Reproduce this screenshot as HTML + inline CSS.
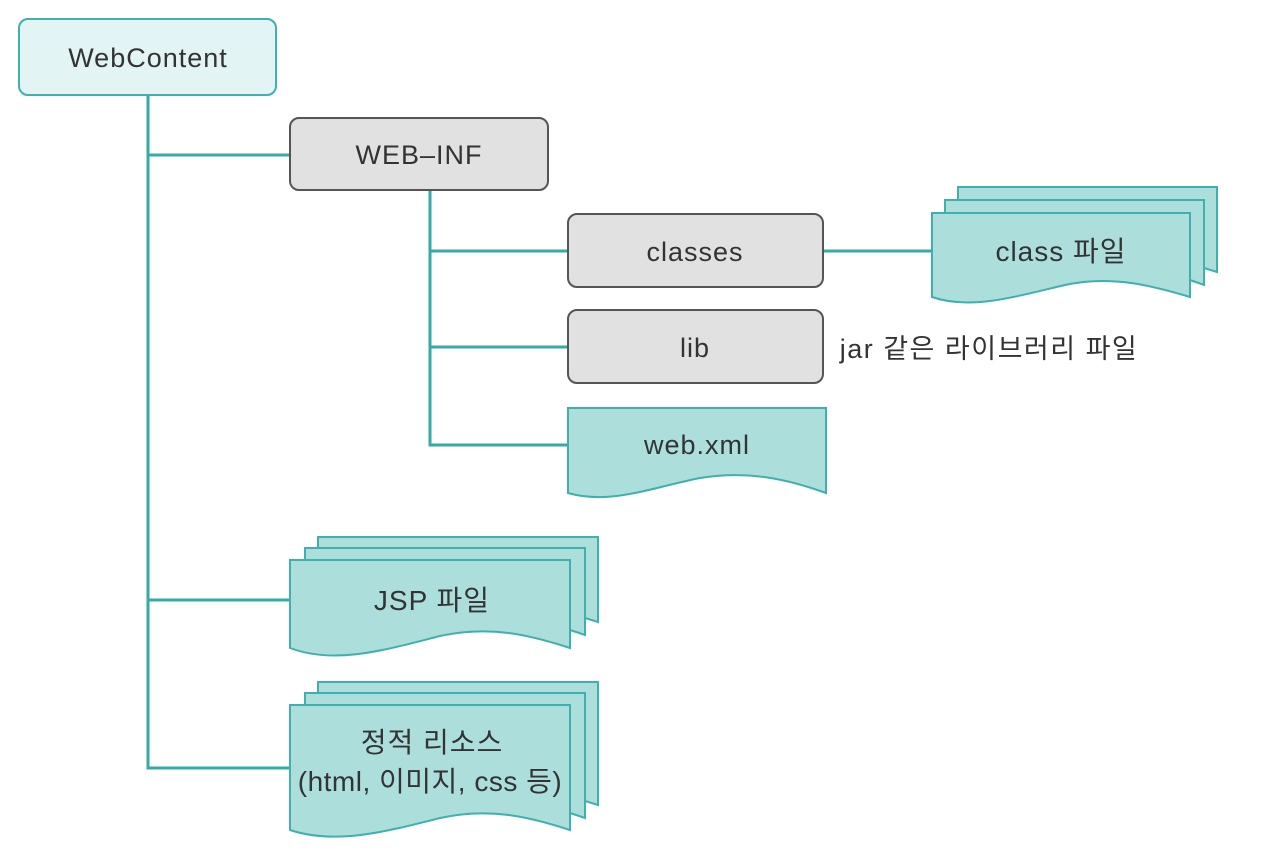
<!DOCTYPE html>
<html><head><meta charset="utf-8"><style>
html,body{margin:0;padding:0;background:#fff;}
svg{display:block}
text{font-family:"Liberation Sans","Noto Sans CJK KR",sans-serif;fill:#333;font-size:27px;text-anchor:middle;letter-spacing:1px;}
</style></head><body>
<svg width="1271" height="868" viewBox="0 0 1271 868" xmlns="http://www.w3.org/2000/svg">
<defs>
<style>.doc{fill:#acdfdc;stroke:#3fb0ad;stroke-width:2}.ln{stroke:#36aaa6;stroke-width:3;fill:none}.gb{fill:#e1e1e1;stroke:#555;stroke-width:2}</style>
</defs>
<path class="ln" d="M148 95 V768 H290 M148 155 H290 M148 600 H290 M430 190 V445 H568 M430 251 H568 M430 347 H568 M823 251 H932"/>
<rect x="19" y="19" width="257" height="76" rx="9" fill="#e2f4f3" stroke="#3fb0ad" stroke-width="2"/>
<text x="148" y="67">WebContent</text>
<rect class="gb" x="290" y="118" width="258" height="72" rx="9"/>
<text x="419" y="164">WEB–INF</text>
<rect class="gb" x="568" y="214" width="255" height="73" rx="9"/>
<text x="695" y="261">classes</text>
<rect class="gb" x="568" y="310" width="255" height="73" rx="9"/>
<text x="695" y="357">lib</text>
<text x="989" y="358" style="font-size:27px;letter-spacing:1.5px">jar 같은 라이브러리 파일</text>
<path class="doc" d="M568 408 H826 V493 C790 480 750 470 700 478 C650 488 610 505 568 493 Z"/>
<text x="697" y="454">web.xml</text>
<path class="doc" d="M958 187 H1217 V272 L1204 268 V200 H958 Z"/>
<path class="doc" d="M945 200 H1204 V285 L1190 280 V213 H945 Z"/>
<path class="doc" d="M932 213 H1190 V297 C1150 285 1110 275 1065 285 C1010 298 970 310 932 297 Z"/>
<text x="1061" y="261" style="font-size:28px">class 파일</text>
<path class="doc" d="M318 537 H598 V622 L585 618 V548 H318 Z"/>
<path class="doc" d="M305 548 H585 V635 L570 630 V560 H305 Z"/>
<path class="doc" d="M290 560 H570 V648 C530 635 490 625 440 636 C385 650 335 665 290 648 Z"/>
<text x="432" y="610" style="font-size:28px">JSP 파일</text>
<path class="doc" d="M318 682 H598 V805 L585 801 V693 H318 Z"/>
<path class="doc" d="M305 693 H585 V818 L570 813 V705 H305 Z"/>
<path class="doc" d="M290 705 H570 V830 C530 817 490 807 440 818 C385 832 335 845 290 830 Z"/>
<text x="432" y="752" style="font-size:28px">정적 리소스</text>
<text x="430" y="791" style="font-size:28px;letter-spacing:0.5px">(html, 이미지, css 등)</text>
</svg>
</body></html>
